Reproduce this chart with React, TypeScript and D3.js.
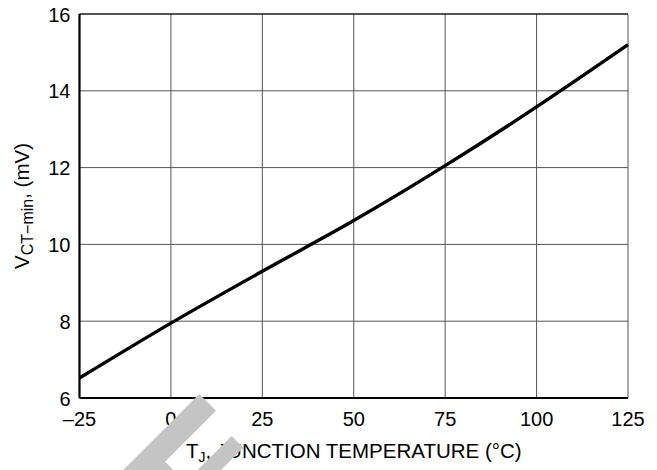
import React, { useEffect, useRef } from 'react'
import * as d3 from 'd3'

// temperature (°C) and V_CT-min (mV)
const temps = [-25, 0, 25, 50, 75, 100, 125]
const vctMin = [6.52, 7.95, 9.3, 10.62, 12.05, 13.58, 15.2]
const xTicks = [-25, 0, 25, 50, 75, 100, 125]
const yTicks = [6, 8, 10, 12, 14, 16]

const W = 657
const H = 470

function Chart() {
  const ref = useRef<SVGSVGElement>(null)

  useEffect(() => {
    const svg = d3.select(ref.current)
    svg.selectAll('*').remove()

    const margin = { top: 14, right: 29, bottom: 72, left: 79.5 }
    const w = W - margin.left - margin.right
    const h = H - margin.top - margin.bottom

    const x = d3.scaleLinear().domain([-25, 125]).range([0, w])
    const y = d3.scaleLinear().domain([6, 16]).range([h, 0])

    const g = svg.append('g').attr('transform', `translate(${margin.left},${margin.top})`)
    const font = 'Liberation Sans, Arial, Helvetica, sans-serif'

    // grid
    g.selectAll('.vgrid').data(xTicks).join('line')
      .attr('class', 'vgrid')
      .attr('x1', d => x(d)).attr('x2', d => x(d))
      .attr('y1', 0).attr('y2', h)
      .attr('stroke', '#555').attr('stroke-width', 1)
    g.selectAll('.hgrid').data(yTicks).join('line')
      .attr('class', 'hgrid')
      .attr('x1', 0).attr('x2', w)
      .attr('y1', d => y(d)).attr('y2', d => y(d))
      .attr('stroke', '#555').attr('stroke-width', 1)

    // top border
    g.append('line').attr('x1', 0).attr('x2', w).attr('y1', 0).attr('y2', 0)
      .attr('stroke', '#000').attr('stroke-width', 1.2)

    // left + bottom axes (heavier)
    g.append('line').attr('x1', 0).attr('x2', 0).attr('y1', 0).attr('y2', h)
      .attr('stroke', '#000').attr('stroke-width', 2.2)
    g.append('line').attr('x1', 0).attr('x2', w).attr('y1', h).attr('y2', h)
      .attr('stroke', '#000').attr('stroke-width', 2.2)

    // curve
    const line = d3.line<number>()
      .x((_, i) => x(temps[i]))
      .y(d => y(d))
      .curve(d3.curveMonotoneX)
    g.append('path').datum(vctMin)
      .attr('d', line)
      .attr('fill', 'none')
      .attr('stroke', '#000')
      .attr('stroke-width', 3.4)

    // tick labels
    g.selectAll('.xlab').data(xTicks).join('text')
      .attr('class', 'xlab')
      .attr('x', d => x(d)).attr('y', h + 27.5)
      .attr('text-anchor', 'middle')
      .style('font-family', font).style('font-size', '20px')
      .text(d => (d < 0 ? '\u2013' + Math.abs(d) : String(d)))
    g.selectAll('.ylab').data(yTicks).join('text')
      .attr('class', 'ylab')
      .attr('x', -9).attr('y', d => y(d) + 7.5)
      .attr('text-anchor', 'end')
      .style('font-family', font).style('font-size', '20px')
      .text(d => d)

    // x axis title
    const xt = svg.append('text')
      .attr('x', margin.left + w / 2).attr('y', 458)
      .attr('text-anchor', 'middle')
      .style('font-family', font).style('font-size', '20.5px')
    xt.append('tspan').text('T')
    xt.append('tspan').attr('dy', 4).style('font-size', '14px').text('J')
    xt.append('tspan').attr('dy', -4).text(', JUNCTION TEMPERATURE (\u00B0C)')

    // y axis title
    const cy = margin.top + h / 2
    const yt = svg.append('text')
      .attr('transform', `translate(29,${cy}) rotate(-90)`)
      .attr('text-anchor', 'middle')
      .style('font-family', font).style('font-size', '20.5px')
    yt.append('tspan').text('V')
    yt.append('tspan').attr('dy', 4).style('font-size', '16px').text('CT\u2212min')
    yt.append('tspan').attr('dy', -4).text(', (mV)')

    // watermark
    const marks = [
      [[199.3, 394], [216, 410.7], [165, 461.7], [173.3, 470], [123.3, 470]],
      [[231.7, 436], [243.3, 447.7], [221, 470], [197.7, 470]],
    ]
    svg.selectAll('.wm').data(marks).join('polygon')
      .attr('class', 'wm')
      .attr('points', d => d.map(p => p.join(',')).join(' '))
      .attr('fill', '#c4c4c4')
  }, [])

  return <svg ref={ref} width={W} height={H} style={{ display: 'block' }} />
}

export default function App() {
  return (
    <div style={{ position: 'absolute', left: 0, top: 0, background: '#fff' }}>
      <Chart />
    </div>
  )
}
